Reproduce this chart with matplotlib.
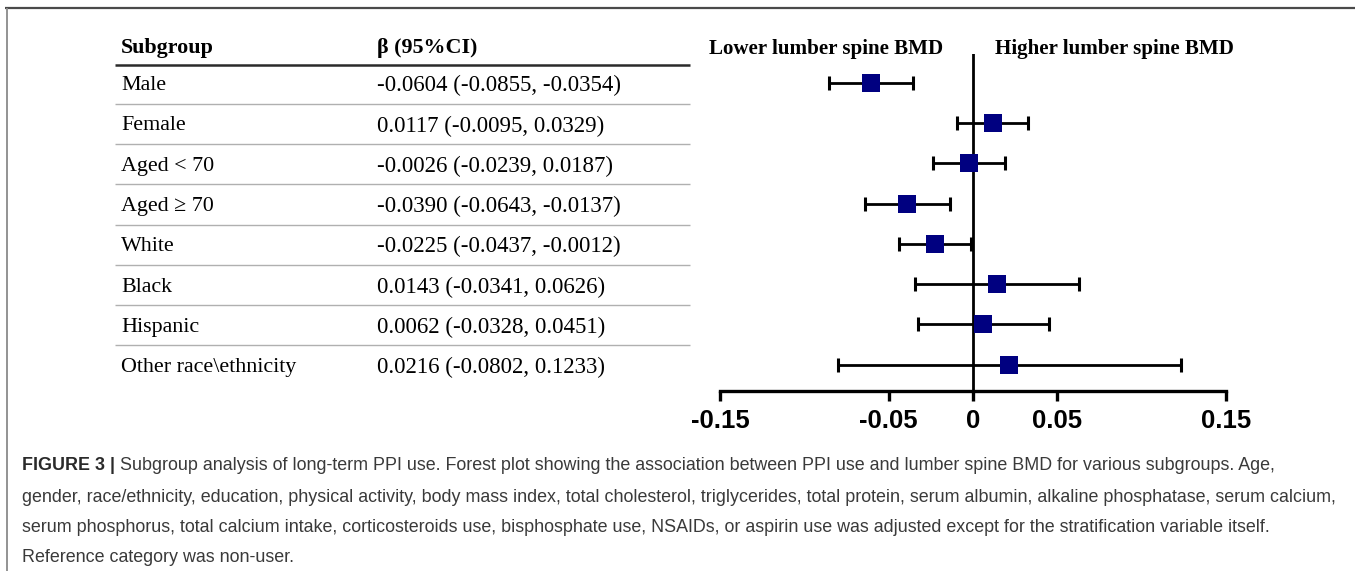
import matplotlib
matplotlib.use("Agg")
import matplotlib.pyplot as plt
from matplotlib.transforms import blended_transform_factory
import numpy as np

# ---------------- data ----------------
subgroups = ["Male", "Female", "Aged < 70", "Aged \u2265 70", "White", "Black",
             "Hispanic", "Other race\\ethnicity"]
beta = [-0.0604, 0.0117, -0.0026, -0.0390, -0.0225, 0.0143, 0.0062, 0.0216]
ci_low = [-0.0855, -0.0095, -0.0239, -0.0643, -0.0437, -0.0341, -0.0328, -0.0802]
ci_high = [-0.0354, 0.0329, 0.0187, -0.0137, -0.0012, 0.0626, 0.0451, 0.1233]
ci_text = ["-0.0604 (-0.0855, -0.0354)", "0.0117 (-0.0095, 0.0329)",
           "-0.0026 (-0.0239, 0.0187)", "-0.0390 (-0.0643, -0.0137)",
           "-0.0225 (-0.0437, -0.0012)", "0.0143 (-0.0341, 0.0626)",
           "0.0062 (-0.0328, 0.0451)", "0.0216 (-0.0802, 0.1233)"]
xticks = [-0.15, -0.05, 0, 0.05, 0.15]
xtick_labels = ["-0.15", "-0.05", "0", "0.05", "0.15"]
header_left = "Subgroup"
header_right = "\u03b2 (95%CI)"
label_lower = "Lower lumber spine BMD"
label_higher = "Higher lumber spine BMD"
caption_bold = "FIGURE 3 | "
caption_lines = [
    "Subgroup analysis of long-term PPI use. Forest plot showing the association between PPI use and lumber spine BMD for various subgroups. Age,",
    "gender, race/ethnicity, education, physical activity, body mass index, total cholesterol, triglycerides, total protein, serum albumin, alkaline phosphatase, serum calcium,",
    "serum phosphorus, total calcium intake, corticosteroids use, bisphosphate use, NSAIDs, or aspirin use was adjusted except for the stratification variable itself.",
    "Reference category was non-user.",
]

W, H = 1355, 571
fig = plt.figure(figsize=(W / 100, H / 100), dpi=100)
fig.patch.set_facecolor("white")

# background axis in pixel coordinates for frame and caption
bg = fig.add_axes([0, 0, 1, 1])
bg.set_xlim(0, W)
bg.set_ylim(H, 0)
bg.axis("off")
bg.plot([5, W], [8, 8], color="#4a4a4a", lw=1.6, solid_capstyle="butt")
bg.plot([6.5, 6.5], [8, H], color="#8a8a8a", lw=1.3, solid_capstyle="butt")

# forest plot axis
row0, rowstep = 82.7, 40.3
y_bottom_px, y_top_px = 391, 54
ax = fig.add_axes([720 / W, 1 - y_bottom_px / H, 506 / W, (y_bottom_px - y_top_px) / H])
ax.set_xlim(-0.15, 0.15)
ax.set_ylim((y_bottom_px - row0) / rowstep, (y_top_px - row0) / rowstep)
ax.patch.set_alpha(0)
for s in ["top", "left", "right"]:
    ax.spines[s].set_visible(False)
ax.spines["bottom"].set_linewidth(2.4)
ax.set_yticks([])
ax.set_xticks(xticks)
ax.set_xticklabels(xtick_labels)
ax.tick_params(axis="x", direction="out", length=7, width=2.4, pad=6)
for t in ax.get_xticklabels():
    t.set_fontfamily("Liberation Sans")
    t.set_fontweight("bold")
    t.set_fontsize(18.5)

ypos = np.arange(len(subgroups))
b = np.array(beta)
lo = np.array(ci_low)
hi = np.array(ci_high)
ax.axvline(0, color="black", lw=2.0, zorder=1)
ax.errorbar(b, ypos, xerr=[b - lo, hi - b], fmt="none", ecolor="black",
            elinewidth=2.0, capsize=4.7, capthick=2.2, zorder=2, clip_on=False)
ax.plot(b, ypos, linestyle="none", marker="s", markersize=12.5,
        color="#000080", markeredgewidth=0, zorder=3, clip_on=False)

fig.text(826 / W, 1 - 49 / H, label_lower, ha="center", va="center",
         fontfamily="Liberation Serif", fontweight="bold", fontsize=15.1)
fig.text(1114 / W, 1 - 49 / H, label_higher, ha="center", va="center",
         fontfamily="Liberation Serif", fontweight="bold", fontsize=15.1)

# table on the left, rows aligned to the forest axis rows
tr = blended_transform_factory(fig.transFigure, ax.transData)
def py(p):
    return (p - row0) / rowstep

txt_shift = 3 / rowstep
x_lab, x_val = 121 / W, 377 / W
x0_line, x1_line = 115 / W, 690 / W
serif = ["Liberation Serif", "DejaVu Serif"]
ax.text(x_lab, py(45) + txt_shift, header_left, transform=tr, ha="left", va="center",
        fontfamily=serif, fontweight="bold", fontsize=15.8, clip_on=False)
ax.text(x_val, py(45) + txt_shift, header_right, transform=tr, ha="left", va="center",
        fontfamily=serif, fontweight="bold", fontsize=15.8, clip_on=False)
ax.plot([x0_line, x1_line], [py(65), py(65)], transform=tr, color="#2a2a2a",
        lw=1.8, clip_on=False, solid_capstyle="butt")
for i, (lab, val) in enumerate(zip(subgroups, ci_text)):
    ax.text(x_lab, i + txt_shift, lab, transform=tr, ha="left", va="center",
            fontfamily=serif, fontsize=15.8, clip_on=False)
    ax.text(x_val, i + txt_shift, val, transform=tr, ha="left", va="center",
            fontfamily=serif, fontsize=16.5, clip_on=False)
    if i < len(subgroups) - 1:
        ax.plot([x0_line, x1_line], [i + 0.52, i + 0.52], transform=tr, color="#b0b0b0",
                lw=1.0, clip_on=False, solid_capstyle="butt")

# caption
cap_color = "#3a3a3a"
cap_y = [465, 497, 527, 557]
cap_fs = 12.9
t1 = bg.text(22, cap_y[0], caption_bold, ha="left", va="center", fontfamily="Liberation Sans",
             fontweight="bold", fontsize=cap_fs, color="#2a2a2a")
bg.annotate(caption_lines[0], xy=(1, 0.5), xycoords=t1, ha="left", va="center",
            fontfamily="Liberation Sans", fontsize=cap_fs, color=cap_color)
for yy, line in zip(cap_y[1:], caption_lines[1:]):
    bg.text(22, yy, line, ha="left", va="center", fontfamily="Liberation Sans",
            fontsize=cap_fs, color=cap_color)

fig.savefig("out.png", dpi=100, facecolor="white")
